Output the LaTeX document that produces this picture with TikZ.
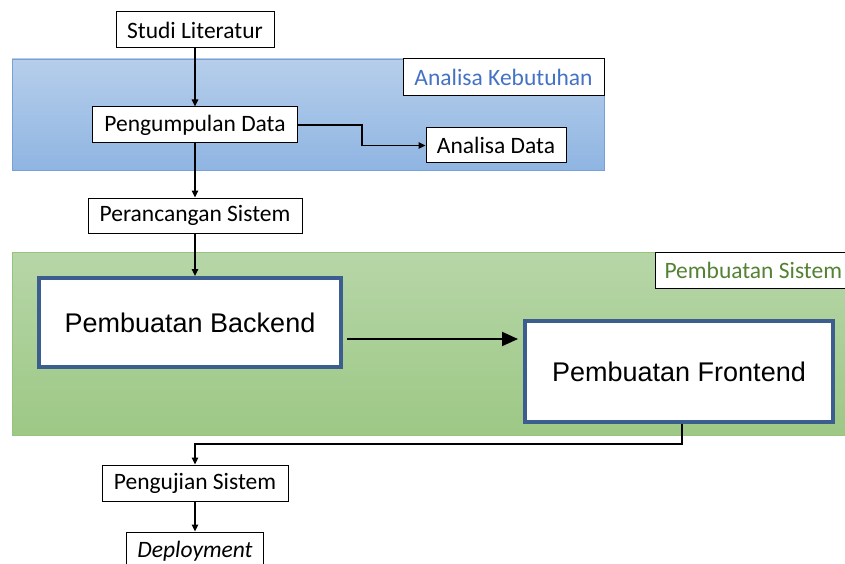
\documentclass[tikz,border=0pt]{standalone}
\usepackage{fontspec}
\setmainfont{Carlito}
\newfontfamily\arialfont{Liberation Sans}
\usetikzlibrary{arrows.meta,calc}
\definecolor{bluetop}{RGB}{182,206,235}
\definecolor{bluebot}{RGB}{143,181,226}
\definecolor{blueedge}{RGB}{120,160,215}
\definecolor{greentop}{RGB}{183,214,168}
\definecolor{greenbot}{RGB}{157,200,133}
\definecolor{greenedge}{RGB}{150,195,125}
\definecolor{labelblue}{RGB}{68,114,196}
\definecolor{labelgreen}{RGB}{84,130,53}
\definecolor{bigedge}{RGB}{59,94,142}
\tikzset{
  smallbox/.style={draw=black, line width=1pt, fill=white, inner sep=0pt,
    font=\fontsize{23.5}{27}\selectfont, minimum height=36pt},
  labelbox/.style={draw=black, line width=1pt, fill=white, inner sep=0pt,
    font=\fontsize{23.5}{27}\selectfont, minimum height=37pt},
  bigbox/.style={draw=bigedge, line width=4pt, fill=white, inner sep=0pt,
    font=\arialfont\fontsize{27}{31}\selectfont},
  conn/.style={draw=black, line width=1.4pt, -{Triangle[length=7pt,width=6.5pt]}},
  bigconn/.style={draw=black, line width=2pt, -{Triangle[length=16pt,width=14pt]}}
}
\begin{document}
\begin{tikzpicture}[x=1pt,y=-1pt]
\useasboundingbox (0,0) rectangle (845,564);
\clip (0,0) rectangle (845,564);
% regions
\shade[top color=bluetop, bottom color=bluebot, draw=blueedge, line width=0.8pt]
  (12,59) rectangle (604,170);
\shade[top color=greentop, bottom color=greenbot, draw=greenedge, line width=0.8pt]
  (12,252) rectangle (860,435);
% labels
\node[labelbox, text=labelblue, minimum width=201pt] (kebutuhan) at (503.5,77.5) {Analisa Kebutuhan};
\node[labelbox, text=labelgreen, anchor=west, minimum height=36pt, inner xsep=9pt] (sistemlabel) at (655,270) {Pembuatan Sistem};
% nodes
\node[smallbox, minimum width=158pt] (studi) at (195,30) {Studi Literatur};
\node[smallbox, minimum width=205pt] (kumpul) at (195,125) {Pengumpulan Data};
\node[smallbox, minimum width=140pt, minimum height=35pt] (analisa) at (496,145.5) {Analisa Data};
\node[smallbox, minimum width=214pt, minimum height=35pt] (rancang) at (195,215.5) {Perancangan Sistem};
\node[bigbox, minimum width=302pt, minimum height=89pt] (backend) at (190,322.5) {Pembuatan Backend};
\node[bigbox, minimum width=308pt, minimum height=101pt] (frontend) at (679,371.5) {Pembuatan Frontend};
\node[smallbox, minimum width=186pt] (uji) at (195,483) {Pengujian Sistem};
\node[smallbox, minimum width=137pt, minimum height=38pt] (deploy) at (195,551) {\itshape Deployment};
% connectors
\draw[conn] (studi.south) -- (kumpul.north);
\draw[conn] (kumpul.east) -- ++(64,0) |- (analisa.west);
\draw[conn] (kumpul.south) -- (rancang.north);
\draw[conn] (rancang.south) -- (rancang.south |- backend.north);
\draw[bigconn, shorten >=5pt] ([xshift=4pt,yshift=-16.5pt]backend.east) -- ([yshift=-16.5pt]backend.east -| frontend.west);
\draw[conn] ([xshift=3pt]frontend.south) -- ++(0,20) -| (uji.north);
\draw[conn] (uji.south) -- (deploy.north);
\end{tikzpicture}
\end{document}
